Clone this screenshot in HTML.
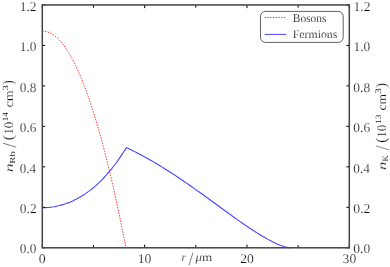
<!DOCTYPE html>
<html><head><meta charset="utf-8"><title>plot</title>
<style>
html,body{margin:0;padding:0;background:#fff;}
body{width:390px;height:267px;overflow:hidden;}
svg{display:block;}
text{font-family:"Liberation Serif",serif;font-size:10.0px;fill:#111;stroke:#fff;stroke-width:0.15px;vector-effect:non-scaling-stroke;text-rendering:geometricPrecision;}
.it{font-style:italic;}
.sm{stroke-width:0.04px;}
</style></head><body>
<svg width="390" height="267" viewBox="0 0 390 267">
<defs><filter id="g" x="0" y="0" width="390" height="267" filterUnits="userSpaceOnUse" color-interpolation-filters="sRGB"><feColorMatrix type="saturate" values="0"/></filter></defs>
<rect x="0" y="0" width="390" height="267" fill="#fff"/>
<path d="M42.30,31.12 L43.72,31.18 L45.13,31.37 L46.55,31.68 L47.97,32.11 L49.39,32.67 L50.80,33.36 L52.22,34.17 L53.64,35.10 L55.05,36.16 L56.47,37.34 L57.89,38.65 L59.30,40.08 L60.72,41.64 L62.14,43.32 L63.56,45.12 L64.97,47.05 L66.39,49.11 L67.81,51.29 L69.22,53.59 L70.64,56.02 L72.06,58.57 L73.48,61.24 L74.89,64.05 L76.31,66.97 L77.73,70.02 L79.14,73.20 L80.56,76.50 L81.98,79.92 L83.39,83.47 L84.81,87.14 L86.23,90.94 L87.65,94.86 L89.06,98.90 L90.48,103.07 L91.90,107.37 L93.31,111.79 L94.73,116.33 L96.15,121.00 L97.57,125.80 L98.98,130.71 L100.40,135.75 L101.82,140.92 L103.23,146.21 L104.65,151.63 L106.07,157.17 L107.48,162.83 L108.90,168.62 L110.32,174.53 L111.74,180.57 L113.15,186.74 L114.57,193.02 L115.99,199.43 L117.40,205.97 L118.82,212.63 L120.24,219.42 L121.66,226.32 L123.07,233.36 L124.49,240.52 L125.91,247.80" fill="none" stroke="#ff3030" stroke-width="1.0" stroke-dasharray="1.45,1.3"/>
<path d="M42.30,207.72 L44.02,207.70 L45.73,207.63 L47.45,207.53 L49.17,207.38 L50.88,207.19 L52.60,206.96 L54.32,206.68 L56.03,206.36 L57.75,206.00 L59.47,205.59 L61.18,205.14 L62.90,204.65 L64.62,204.10 L66.33,203.52 L68.05,202.88 L69.77,202.20 L71.48,201.47 L73.20,200.70 L74.92,199.87 L76.63,199.00 L78.35,198.07 L80.07,197.09 L81.78,196.07 L83.50,194.98 L85.22,193.85 L86.93,192.66 L88.65,191.41 L90.37,190.10 L92.08,188.74 L93.80,187.32 L95.52,185.84 L97.23,184.30 L98.95,182.69 L100.67,181.03 L102.38,179.30 L104.10,177.50 L105.82,175.63 L107.53,173.70 L109.25,171.70 L110.97,169.63 L112.68,167.49 L114.40,165.27 L116.12,162.98 L117.83,160.62 L119.55,158.17 L121.27,155.65 L122.98,153.05 L124.70,150.37 L126.42,147.61 L127.79,148.26 L129.17,148.91 L130.54,149.57 L131.91,150.25 L133.29,150.93 L134.66,151.62 L136.04,152.31 L137.41,153.02 L138.79,153.74 L140.16,154.46 L141.53,155.19 L142.91,155.93 L144.28,156.68 L145.66,157.44 L147.03,158.20 L148.41,158.97 L149.78,159.75 L151.15,160.54 L152.53,161.33 L153.90,162.14 L155.28,162.95 L156.65,163.76 L158.02,164.59 L159.40,165.42 L160.77,166.26 L162.15,167.11 L163.52,167.96 L164.90,168.82 L166.27,169.68 L167.64,170.55 L169.02,171.43 L170.39,172.32 L171.77,173.21 L173.14,174.10 L174.51,175.00 L175.89,175.91 L177.26,176.83 L178.64,177.74 L180.01,178.67 L181.39,179.60 L182.76,180.53 L184.13,181.47 L185.51,182.41 L186.88,183.36 L188.26,184.31 L189.63,185.27 L191.00,186.23 L192.38,187.19 L193.75,188.16 L195.13,189.13 L196.50,190.11 L197.88,191.09 L199.25,192.07 L200.62,193.05 L202.00,194.04 L203.37,195.03 L204.75,196.02 L206.12,197.01 L207.50,198.01 L208.87,199.01 L210.24,200.00 L211.62,201.00 L212.99,202.00 L214.37,203.01 L215.74,204.01 L217.11,205.01 L218.49,206.01 L219.86,207.01 L221.24,208.02 L222.61,209.02 L223.99,210.02 L225.36,211.02 L226.73,212.01 L228.11,213.01 L229.48,214.00 L230.86,214.99 L232.23,215.98 L233.60,216.96 L234.98,217.95 L236.35,218.92 L237.73,219.90 L239.10,220.87 L240.48,221.83 L241.85,222.79 L243.22,223.74 L244.60,224.69 L245.97,225.63 L247.35,226.57 L248.72,227.49 L250.10,228.41 L251.47,229.32 L252.84,230.23 L254.22,231.12 L255.59,232.00 L256.97,232.87 L258.34,233.73 L259.71,234.58 L261.09,235.42 L262.46,236.24 L263.84,237.05 L265.21,237.84 L266.59,238.62 L267.96,239.38 L269.33,240.13 L270.71,240.85 L272.08,241.56 L273.46,242.24 L274.83,242.90 L276.20,243.53 L277.58,244.14 L278.95,244.72 L280.33,245.27 L281.70,245.78 L283.08,246.26 L284.45,246.69 L285.82,247.08 L287.20,247.41 L288.57,247.66 L289.95,247.80" fill="none" stroke="#4646ff" stroke-width="1.1" stroke-linejoin="miter"/>
<g stroke="#000" stroke-width="1.0">
<line x1="42.30" y1="247.8" x2="42.30" y2="244.60000000000002"/>
<line x1="42.30" y1="4.95" x2="42.30" y2="8.15"/>
<line x1="93.47" y1="247.8" x2="93.47" y2="245.10000000000002"/>
<line x1="93.47" y1="4.95" x2="93.47" y2="7.65"/>
<line x1="144.63" y1="247.8" x2="144.63" y2="244.60000000000002"/>
<line x1="144.63" y1="4.95" x2="144.63" y2="8.15"/>
<line x1="195.80" y1="247.8" x2="195.80" y2="245.10000000000002"/>
<line x1="195.80" y1="4.95" x2="195.80" y2="7.65"/>
<line x1="246.97" y1="247.8" x2="246.97" y2="244.60000000000002"/>
<line x1="246.97" y1="4.95" x2="246.97" y2="8.15"/>
<line x1="298.13" y1="247.8" x2="298.13" y2="245.10000000000002"/>
<line x1="298.13" y1="4.95" x2="298.13" y2="7.65"/>
<line x1="349.30" y1="247.8" x2="349.30" y2="244.60000000000002"/>
<line x1="349.30" y1="4.95" x2="349.30" y2="8.15"/>
<line x1="42.3" y1="247.80" x2="45.199999999999996" y2="247.80"/>
<line x1="349.3" y1="247.80" x2="346.40000000000003" y2="247.80"/>
<line x1="42.3" y1="207.32" x2="45.199999999999996" y2="207.32"/>
<line x1="349.3" y1="207.32" x2="346.40000000000003" y2="207.32"/>
<line x1="42.3" y1="166.85" x2="45.199999999999996" y2="166.85"/>
<line x1="349.3" y1="166.85" x2="346.40000000000003" y2="166.85"/>
<line x1="42.3" y1="126.37" x2="45.199999999999996" y2="126.37"/>
<line x1="349.3" y1="126.37" x2="346.40000000000003" y2="126.37"/>
<line x1="42.3" y1="85.90" x2="45.199999999999996" y2="85.90"/>
<line x1="349.3" y1="85.90" x2="346.40000000000003" y2="85.90"/>
<line x1="42.3" y1="45.42" x2="45.199999999999996" y2="45.42"/>
<line x1="349.3" y1="45.42" x2="346.40000000000003" y2="45.42"/>
<line x1="42.3" y1="4.95" x2="45.199999999999996" y2="4.95"/>
<line x1="349.3" y1="4.95" x2="346.40000000000003" y2="4.95"/>
</g>
<rect x="42.3" y="4.95" width="307.00" height="242.85" fill="none" stroke="#444" stroke-width="1.5"/>
<rect x="260.5" y="11.4" width="82.7" height="31.0" rx="5" ry="5" fill="#fff" stroke="#3a3a3a" stroke-width="0.8"/>
<line x1="264.7" y1="17.45" x2="286.3" y2="17.45" stroke="#ff3030" stroke-width="1.0" stroke-dasharray="1.45,1.3"/>
<line x1="264.7" y1="34.4" x2="286.3" y2="34.4" stroke="#4646ff" stroke-width="1.0"/>
<g filter="url(#g)">
<text transform="translate(19.802,253.398) scale(1.3277,1.3456)">0.0</text>
<text transform="translate(353.293,253.398) scale(1.3532,1.3456)">0.0</text>
<text transform="translate(19.795,212.973) scale(1.3477,1.3456)">0.2</text>
<text transform="translate(353.285,212.973) scale(1.3737,1.3456)">0.2</text>
<text transform="translate(19.811,172.548) scale(1.3027,1.3456)">0.4</text>
<text transform="translate(353.302,172.548) scale(1.3278,1.3456)">0.4</text>
<text transform="translate(19.805,132.123) scale(1.3192,1.3456)">0.6</text>
<text transform="translate(353.296,132.123) scale(1.3446,1.3456)">0.6</text>
<text transform="translate(19.802,91.698) scale(1.3277,1.3456)">0.8</text>
<text transform="translate(353.293,91.698) scale(1.3532,1.3456)">0.8</text>
<text transform="translate(19.733,51.273) scale(1.3333,1.3456)">1.0</text>
<text transform="translate(353.426,51.273) scale(1.3422,1.3456)">1.0</text>
<text transform="translate(19.715,10.847) scale(1.3544,1.3506)">1.2</text>
<text transform="translate(353.407,10.847) scale(1.3634,1.3506)">1.2</text>
<text transform="translate(38.829,262.968) scale(1.3882,1.3185)">0</text>
<text transform="translate(137.633,262.968) scale(1.3714,1.3185)">10</text>
<text transform="translate(240.249,262.968) scale(1.3733,1.3185)">20</text>
<text transform="translate(342.601,262.968) scale(1.3661,1.3185)">30</text>
<text class="it" transform="translate(181.546,261.400) scale(1.1348,1.1489)">r</text>
<text transform="translate(188.600,264.515) scale(1.7658,1.8507)">/</text>
<text class="it" transform="translate(195.500,261.452) scale(1.2834,1.1852)">μ</text>
<text transform="translate(201.936,261.400) scale(1.3199,1.1489)">m</text>
<g transform="rotate(-90)">
<text class="it" transform="translate(-172.321,12.900) scale(1.7751,1.1702)">n</text>
<text class="sm" transform="translate(-163.722,15.023) scale(1.0727,0.7660)">Rb</text>
<text transform="translate(-147.700,16.001) scale(1.8378,1.9851)">/</text>
<text transform="translate(-140.576,13.015) scale(1.7255,1.4986)">(</text>
<text transform="translate(-134.840,12.971) scale(1.3029,1.2889)">10</text>
<text class="sm" transform="translate(-121.180,7.800) scale(0.8914,0.8182)">14</text>
<text transform="translate(-107.426,12.977) scale(1.4017,1.2292)">cm</text>
<text class="sm" transform="translate(-90.407,7.721) scale(1.0667,0.7881)">3</text>
<text transform="translate(-84.829,13.015) scale(1.3204,1.4986)">)</text>
<text class="it" transform="translate(-170.080,386.000) scale(1.6568,1.1702)">n</text>
<text class="sm" transform="translate(-161.459,388.100) scale(0.8645,0.8092)">K</text>
<text transform="translate(-150.400,389.001) scale(1.8739,1.9851)">/</text>
<text transform="translate(-143.059,386.015) scale(1.6863,1.4986)">(</text>
<text transform="translate(-137.630,385.971) scale(1.2914,1.2889)">10</text>
<text class="sm" transform="translate(-123.932,380.620) scale(0.9513,0.8030)">13</text>
<text transform="translate(-110.410,385.979) scale(1.3590,1.2083)">cm</text>
<text class="sm" transform="translate(-93.830,381.112) scale(1.1152,0.8773)">3</text>
<text transform="translate(-87.667,386.015) scale(1.4369,1.4986)">)</text>
</g>
<text transform="translate(292.756,22.081) scale(1.1468,1.1880)">Bosons</text>
<text transform="translate(292.746,38.484) scale(1.1798,1.1599)">Fermions</text>
</g>
</svg>
</body></html>
